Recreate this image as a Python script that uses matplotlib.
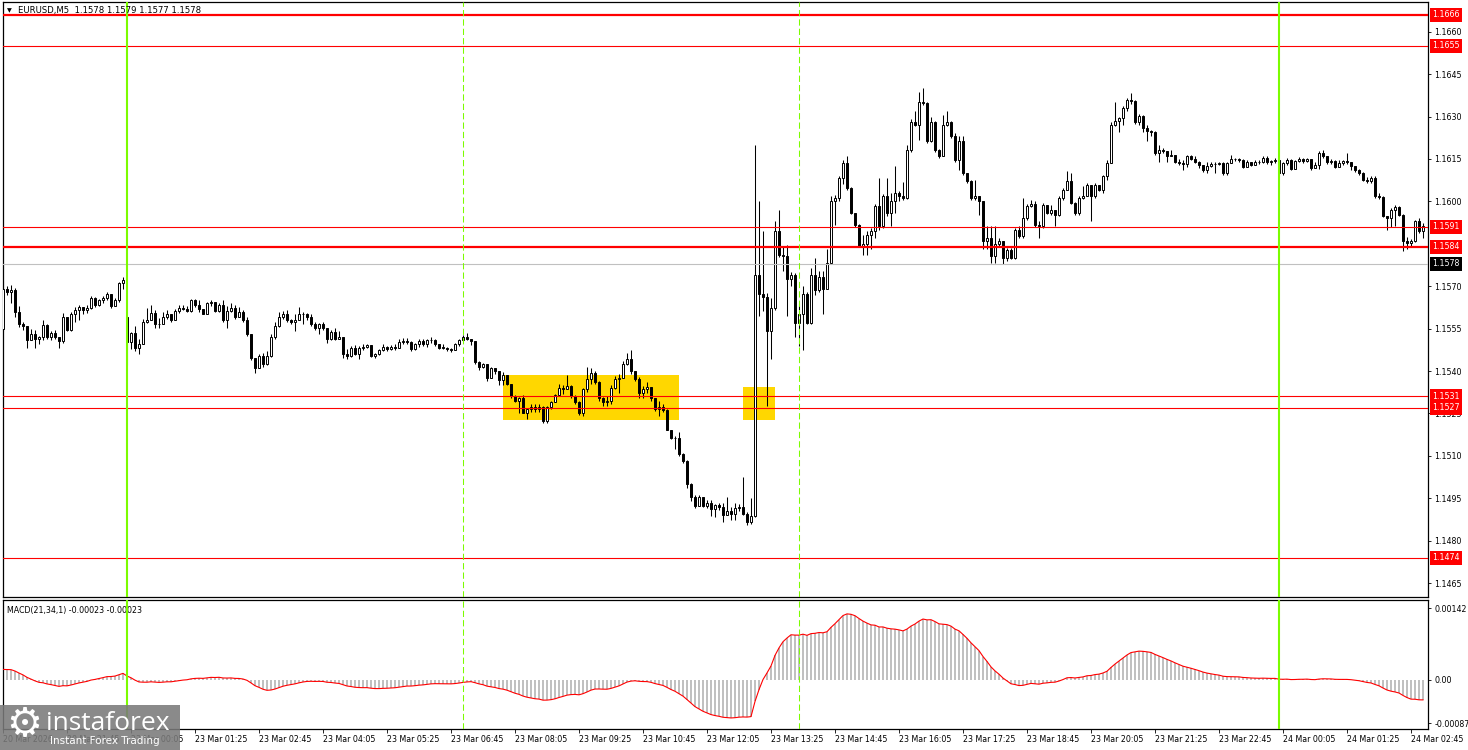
import numpy as np
import matplotlib
matplotlib.use("Agg")
import matplotlib.pyplot as plt
from matplotlib.patches import Rectangle
from matplotlib.transforms import blended_transform_factory

# EURUSD M5, 20 Mar 20:25 -> 24 Mar 02:55
# prices are given in pips above 1.1500
BASE = 1.1500
PIP = 0.0001

first_open = 55.0
monday_open = 59.2   # weekend gap, first bar of 23 Mar
monday_index = 31    # position of 23 Mar 00:00 in the lists

close = [
    69, 68, 68.5, 61, 56.5, 56, 51, 53, 51.5, 52,
    56.4, 52, 53.5, 52, 50.5, 59, 54.5, 60, 61.5, 62.5,
    61.5, 62.4, 66, 63.2, 65, 66, 67.4, 63, 65.3, 71, 72.3,
    50.2, 53.3, 48.2, 49.5, 57.3, 58.2, 60.4, 56.8, 56.5, 59.2,
    60, 58.2, 61.4, 62.4, 62, 61.4, 65, 63.2, 62, 60.3,
    64, 64.4, 61.2, 63.2, 58.2, 61.2, 62.4, 59.2, 61, 58.2,
    53.2, 44.7, 41.2, 45.3, 42.4, 45.3, 52.1, 56.1, 59.1, 60,
    58.2, 57.3, 58.2, 60.2, 60, 59, 56.8, 55.3, 56.5, 55.3,
    51.2, 53.8, 51.4, 52, 45.9, 45.3, 48.2, 46.2, 48.2, 48.5,
    49.2, 45.3, 45.9, 47.3, 48.5, 47.7, 48.5, 48.2, 50.3, 50.5,
    50.3, 47.7, 49.5, 50.5, 49.5, 51, 51, 49.5, 48.3, 48.3,
    47.7, 47.6, 49.5, 51, 52, 51.5, 50.5, 43.2, 41.3, 42.4,
    37.7, 41.2, 40, 37, 38.5, 35.3, 31.2, 29.4, 30.3, 25.3,
    26.7, 27.2, 26.5, 27.4, 22.4, 27.4, 29.1, 31.4, 34.1, 33.5,
    34.7, 31.2, 29.1, 25.3, 33.5, 37.3, 39.4, 36.1, 30.6, 29,
    29.3, 34.1, 37.3, 37.7, 42.4, 44.3, 40, 37.1, 32.3, 33.5,
    34.2, 30.3, 26.5, 27.4, 26.2, 19.3, 16.4, 16.5, 10.6, 8.2,
    0, -4.7, -7.6, -4.7, -7.6, -6.5, -8.8, -7.4, -7.9, -10.9,
    -9.4, -10.6, -8.6, -8, -10.6, -13.5, -11.2, 74.1, 67.1, 66.2,
    54.1, 62.4, 89.4, 81.2, 80.6, 72.4, 74.1, 57.1, 60, 67.1,
    57.1, 74.1, 68.8, 73.3, 69, 78.3, 100, 101.2, 108.2, 113.5,
    104.7, 95.9, 91.8, 84.2, 85, 88.2, 89.4, 98.3, 91.2, 101.8,
    95.9, 100, 102.9, 101.8, 101.2, 118.2, 128.2, 127.1, 135.3, 134.7,
    121.2, 128.2, 118.2, 116, 127.1, 128.2, 123, 114.7, 121.2, 110,
    107.1, 101.2, 101.8, 100, 85.9, 87.1, 80.6, 84.8, 85.9, 80,
    82.9, 80, 90, 87.7, 94.1, 98.3, 99.1, 91.8, 91.2, 98.8,
    96, 97.1, 95.3, 101.2, 104.1, 107.1, 99.4, 96, 101.2, 101.8,
    105.9, 101.8, 105.9, 104.1, 108.8, 113.5, 127.1, 128.5, 129.4, 133,
    135.9, 135.5, 128.2, 130.2, 125.9, 125, 124.7, 117.1, 118.2, 117.7,
    116, 116.5, 113.8, 113.5, 113.2, 115.9, 115.1, 113.8, 113, 111,
    112.5, 113.2, 113.3, 113.5, 110, 113.5, 115, 115.1, 114.7, 112.2,
    113.8, 113, 114, 113.8, 115.3, 113.8, 114.1, 114.7, 110, 113.5,
    114.7, 111.5, 114.1, 115, 114.1, 114.9, 111.8, 113, 117.1, 115.9,
    113.8, 114.1, 112.2, 113.5, 114.1, 113.8, 112.4, 111, 110, 107.7,
    107.1, 108.2, 101.8, 101.5, 95, 94.1, 97.1, 98, 95.3, 85.9,
    85.3, 86, 92.9, 89.4, 91.2,
]

high = [
    72, 70, 70.5, 69.5, 63, 57.5, 56, 55, 54.5, 52.5,
    58, 56.5, 54, 54.5, 52, 60.5, 59, 61, 62.5, 63.2,
    62.5, 63.2, 66.5, 66.2, 65.5, 66.5, 68, 66.5, 65.8, 71.5, 73.3,
    59.5, 53.8, 56, 51.2, 58.5, 62.4, 63.2, 61.5, 58.8, 60.8,
    61.5, 60, 62, 63.2, 63.5, 63, 65.5, 65.5, 65, 62,
    64.5, 65.2, 64.5, 64, 65, 63, 64, 63.2, 62.5, 61.5,
    59, 52.5, 44.5, 46, 46.5, 47, 53, 57.3, 61, 61.2,
    61.5, 58.3, 60, 62.5, 61, 60.5, 60, 57.5, 57, 57.5,
    54.5, 54.5, 55.3, 54, 52, 47.7, 49, 49.2, 48.8, 49.5,
    49.7, 49.3, 46.3, 47.8, 49.5, 49, 49.3, 49.5, 51.3, 51.8,
    51.8, 50.5, 50, 51.2, 51.5, 51.5, 52, 51.5, 49.5, 49.5,
    48.5, 48, 50, 51.5, 52.8, 53.3, 51.5, 50.5, 43.5, 43,
    42.5, 41.5, 41, 39.5, 39.5, 38.5, 34.5, 31.5, 30.8, 31.4,
    27, 28.5, 28.5, 28.5, 27.5, 27.8, 29.5, 32, 35.3, 35,
    38.5, 35, 31.5, 29.5, 34, 41.5, 41, 40, 36.5, 30.8,
    31.2, 35, 38.2, 39, 43.5, 46.3, 47.5, 39.5, 38, 34.7,
    36.1, 34.5, 30.5, 29.4, 28.5, 26.5, 18.5, 17, 18.5, 11,
    8.5, 0.5, -4, -4, -4.5, -5.5, -5.5, -7, -6.5, -6.5,
    -4.7, -8, -6.5, -7, 2.4, -10, -5, 120, 100, 89.4,
    67.7, 66, 93, 97.1, 84, 84.5, 75, 74.5, 64, 70,
    68, 76.5, 80, 75.3, 75.3, 83, 101.8, 102.4, 109, 114.7,
    115.9, 105, 96, 92, 88.2, 89.4, 90.6, 99, 108.2, 102.5,
    108.2, 103, 112.4, 103.5, 107, 120, 129, 131.8, 138.8, 140.1,
    135, 130, 128.5, 118.5, 130.6, 131.8, 128.5, 124, 123, 123,
    109, 107.5, 107.7, 101.8, 100, 91.2, 91.2, 91.2, 87, 86,
    83.5, 83.5, 90.6, 91.2, 101.2, 99, 100.6, 100, 93, 99.5,
    98.3, 98.8, 96.5, 101.8, 104.8, 110.6, 110, 99.8, 102, 105.3,
    106.5, 105.5, 106.5, 105.6, 109.5, 114.7, 128.2, 135.3, 130, 133.8,
    136.5, 138.2, 136, 130.8, 130.6, 127, 125.3, 125, 120, 119,
    117.1, 118.3, 116, 115, 114.7, 116.5, 116.5, 116.2, 114.2, 112.5,
    113.8, 113.8, 113.8, 114, 113.8, 114, 116.4, 115.5, 115.5, 115,
    114.5, 114, 114.5, 114.5, 116, 116, 114.7, 115.3, 114.7, 114,
    115.3, 115, 114.7, 115.6, 115.2, 115.5, 115, 114, 117.7, 118.2,
    116, 115, 114.5, 114.7, 114.7, 117, 113.8, 112.6, 111.5, 110.5,
    108.5, 108.8, 109, 102.9, 101.8, 95, 97.7, 98.6, 98.3, 95.5,
    87.5, 86.8, 93.5, 94.1, 92.4,
]

low = [
    54, 67, 64, 59, 55.5, 54.5, 48, 51, 48, 49.5,
    51, 51.5, 51, 51.5, 48, 50, 54, 54, 57.5, 58,
    60, 60.5, 62, 62.7, 63, 64, 65, 62.3, 63.5, 64.5, 69,
    42, 47.7, 47, 46.1, 49.5, 57, 59, 55.3, 55.3, 56.5,
    58.5, 57.5, 58, 60.5, 61.5, 61, 61, 62.5, 61, 60,
    60, 63, 61, 61, 57.5, 55.3, 61, 58.5, 59, 57.5,
    52.5, 44, 39.3, 42, 41.5, 42, 45, 51.5, 55.5, 58.5,
    57.5, 56.5, 54, 58, 56.5, 58, 56, 54.5, 53, 54.5,
    50, 51, 51, 51.2, 44.5, 44.3, 45, 45.5, 44.3, 47.5,
    48, 44.8, 44.5, 45.5, 47, 47.2, 47.3, 47.5, 48, 49.5,
    49.5, 47.2, 47.5, 48.5, 49, 48.5, 50, 49, 47.8, 47.7,
    47.2, 46.8, 47.3, 49, 50.5, 51, 49.3, 42.5, 40.5, 41,
    36.5, 38.5, 39, 35, 35, 35, 30.5, 29, 25.3, 25,
    23.2, 25.5, 25.5, 25.5, 21.5, 21.5, 26.5, 29, 31, 32,
    33.5, 30.5, 28.5, 24.5, 24, 32.5, 35.5, 35.5, 29.5, 27.6,
    27.6, 28.5, 33.5, 32.3, 37.5, 42.3, 39, 36.5, 30.6, 30.6,
    32.1, 29.5, 26, 24.1, 25.5, 19, 16, 12.4, 10, 7.5,
    -1.5, -6, -8.5, -7.8, -8, -8.5, -11.2, -11.5, -9, -13.5,
    -11, -12.6, -12.6, -9.5, -11, -14.6, -14, -11.5, 59.4, 61.2,
    27.6, 44.1, 61.5, 80.5, 75.3, 59.4, 70, 52, 49, 47.5,
    56.5, 56.5, 67, 68, 60, 71, 78.5, 91.8, 100, 106,
    104, 95.5, 91, 84, 81.2, 81.2, 83, 87, 90, 90.6,
    95, 91.2, 96, 100, 100.5, 101, 117.5, 126.5, 121.8, 134,
    120.5, 121, 117.5, 115.3, 116, 126.8, 122.5, 114, 111.2, 109.5,
    106.5, 100.5, 100.5, 95.3, 83, 83, 78.3, 78.3, 84, 77.7,
    78.8, 79.5, 79.5, 87, 87, 93.5, 98, 91, 87, 90.6,
    95.5, 95.3, 91.2, 95, 100.5, 105.5, 99, 95.3, 95.3, 101,
    102.9, 93, 101.2, 103.5, 102.9, 107.5, 113.5, 126.5, 124.7, 127.1,
    131.8, 134.5, 127.5, 127.1, 124.7, 121.2, 123.2, 116.5, 113.8, 117,
    113.8, 115.9, 113.5, 113, 111, 112, 114.5, 113.5, 111.8, 110.5,
    110, 112, 110, 112.8, 109.5, 109.5, 114.5, 114.4, 114, 111.8,
    112.2, 112.5, 112.8, 113.2, 113.5, 113.2, 113, 113.5, 108.8, 109.5,
    113, 111, 111.5, 113.8, 113.5, 113.8, 111.2, 111.8, 111.5, 115.3,
    113.2, 113.2, 111.8, 112, 113, 113.2, 111.2, 110.5, 109.5, 107.2,
    106.5, 106.5, 101.2, 100.8, 94.5, 90, 91, 91.2, 94.7, 82.4,
    83.2, 84.2, 85.5, 88.8, 87.1,
]

# EMA state just before the first visible bar (pips vs. first close),
# set so the MACD opens at the pictured +0.0002
ema_seed = (-4.0, -6.0)

# horizontal levels drawn on the chart
red_levels = [1.1666, 1.1655, 1.1591, 1.1584, 1.1531, 1.1527, 1.1474]
thick_levels = [1.1666, 1.1584]
bid_price = 1.1578

# yellow zones: (first bar, last bar, low price, high price)
zones = [(94, 138, 1.15227, 1.15385), (154, 162, 1.15227, 1.15344)]

# session markers (bar index, 0 = 23 Mar 00:00)
day_lines = [0, 288]
session_lines = [84, 168]

price_ticks = [1.1465, 1.1480, 1.1495, 1.1510, 1.1525, 1.1540, 1.1555,
               1.1570, 1.1600, 1.1615, 1.1630, 1.1645, 1.1660]

time_pos = [-31, -15, 1, 17, 33, 49, 65, 81, 97, 113, 129, 145, 161, 177,
            193, 209, 225, 241, 257, 273, 289, 305, 321]
time_labels = ["20 Mar 2026", "20 Mar 21:45", "23 Mar 00:05", "23 Mar 01:25",
               "23 Mar 02:45", "23 Mar 04:05", "23 Mar 05:25", "23 Mar 06:45",
               "23 Mar 08:05", "23 Mar 09:25", "23 Mar 10:45", "23 Mar 12:05",
               "23 Mar 13:25", "23 Mar 14:45", "23 Mar 16:05", "23 Mar 17:25",
               "23 Mar 18:45", "23 Mar 20:05", "23 Mar 21:25", "23 Mar 22:45",
               "24 Mar 00:05", "24 Mar 01:25", "24 Mar 02:45"]

# ---------------------------------------------------------------
c = BASE + np.array(close) * PIP
h = BASE + np.array(high) * PIP
l = BASE + np.array(low) * PIP
o = np.r_[BASE + first_open * PIP, c[:-1]]
o[monday_index] = BASE + monday_open * PIP
h = np.maximum(h, np.maximum(o, c))
l = np.minimum(l, np.minimum(o, c))
x = np.arange(len(c)) - monday_index


def ema(values, span, seed):
    k = 2.0 / (span + 1)
    out = np.empty_like(values)
    prev = seed
    for n, v in enumerate(values):
        prev = prev + k * (v - prev)
        out[n] = prev
    return out


# MACD(21,34,1): the signal over one bar equals the main line
macd = ema(c, 21, c[0] + ema_seed[0] * PIP) - ema(c, 34, c[0] + ema_seed[1] * PIP)

W, H = 1468, 750
fig = plt.figure(figsize=(W / 100, H / 100), dpi=100)
fig.patch.set_facecolor("white")


def box(left, top, right, bottom):
    return [left / W, 1 - bottom / H, (right - left) / W, (bottom - top) / H]


ax = fig.add_axes(box(3, 2, 1428, 597))
axm = fig.add_axes(box(3, 600, 1428, 729))

FS = 5.7
GREEN = "#7CFC00"

for a in (ax, axm):
    a.set_xlim(-31, 325.25)
    for sp in a.spines.values():
        sp.set_color("black")
        sp.set_linewidth(0.9)
    a.yaxis.tick_right()
    a.tick_params(axis="y", length=2.5, width=0.6, labelsize=FS, pad=2, colors="black")
    for d in day_lines:
        a.axvline(d, color=GREEN, lw=1.5, zorder=6)
    for d in session_lines:
        a.axvline(d, color=GREEN, lw=0.75, ls=(0, (6, 3)), zorder=6)

# ---- price panel
ax.set_ylim(1.14601, 1.16705)
for z in zones:
    ax.add_patch(Rectangle((z[0], z[2]), z[1] - z[0], z[3] - z[2],
                           facecolor="#FFD700", edgecolor="none", zorder=1))

ax.vlines(x, l, h, color="black", lw=0.75, zorder=3)
bull = c > o
body_h = np.maximum(np.abs(c - o), 0.000006)
ax.bar(x, body_h, bottom=np.minimum(o, c), width=0.62,
       color=np.where(bull, "white", "black"), edgecolor="black", lw=0.7, zorder=4)

ax.axhline(bid_price, color="#C0C0C0", lw=0.8, zorder=5)
for lv in red_levels:
    ax.axhline(lv, color="#FF0000", lw=1.6 if lv in thick_levels else 0.8, zorder=5)

ax.set_yticks(price_ticks)
ax.set_yticklabels([f"{t:.4f}" for t in price_ticks])
ax.set_xticks([])

tr = blended_transform_factory(ax.transAxes, ax.transData)
for lv in red_levels:
    ax.text(1.0030, lv, f"{lv:.4f}", transform=tr, ha="left", va="center",
            fontsize=FS, color="white", clip_on=False, zorder=10,
            bbox=dict(boxstyle="square,pad=0.32", fc="#FF0000", ec="none"))
ax.text(1.0030, bid_price, f"{bid_price:.4f}", transform=tr, ha="left", va="center",
        fontsize=FS, color="white", clip_on=False, zorder=10,
        bbox=dict(boxstyle="square,pad=0.32", fc="black", ec="none"))

ax.text(0.0028, 0.990, "\u25bc", transform=ax.transAxes, fontsize=4.5, va="top", ha="left")
ax.text(0.0105, 0.994, "EURUSD,M5  1.1578 1.1579 1.1577 1.1578", transform=ax.transAxes,
        fontsize=6.1, va="top", ha="left", zorder=7)

# ---- MACD panel
axm.set_ylim(-0.00098, 0.00158)
axm.bar(x, macd, width=0.5, color="#C0C0C0", zorder=2)
axm.plot(x, macd, color="#FF0000", lw=0.8, zorder=3)
axm.set_yticks([0.00142, 0.0, -0.00087])
axm.set_yticklabels(["0.00142", "0.00", "-0.00087"])
axm.text(0.003, 0.95, "MACD(21,34,1) -0.00023 -0.00023", transform=axm.transAxes,
         fontsize=FS, va="top", ha="left")

axm.set_xticks(time_pos)
axm.set_xticklabels(time_labels, ha="left")
axm.tick_params(axis="x", length=3, width=0.6, labelsize=FS, pad=1.5, colors="black")

# ---- watermark
fig.patches.append(Rectangle((0, 0), 180 / W, 45 / H, transform=fig.transFigure,
                             facecolor="#7a7a7a", alpha=0.88, edgecolor="none", zorder=20))
fig.text(24 / W, 1 - 725 / H, "\u2699", color="white", fontsize=29, ha="center",
         va="center", zorder=21)
fig.text(46 / W, 1 - 723 / H, "instaforex", color="white", fontsize=19, ha="left",
         va="center", family="Open Sans", zorder=21)
fig.text(50 / W, 1 - 741 / H, "Instant Forex Trading", color="white", fontsize=7.5,
         ha="left", va="center", zorder=21)

fig.savefig("out.png", dpi=100, facecolor="white")
